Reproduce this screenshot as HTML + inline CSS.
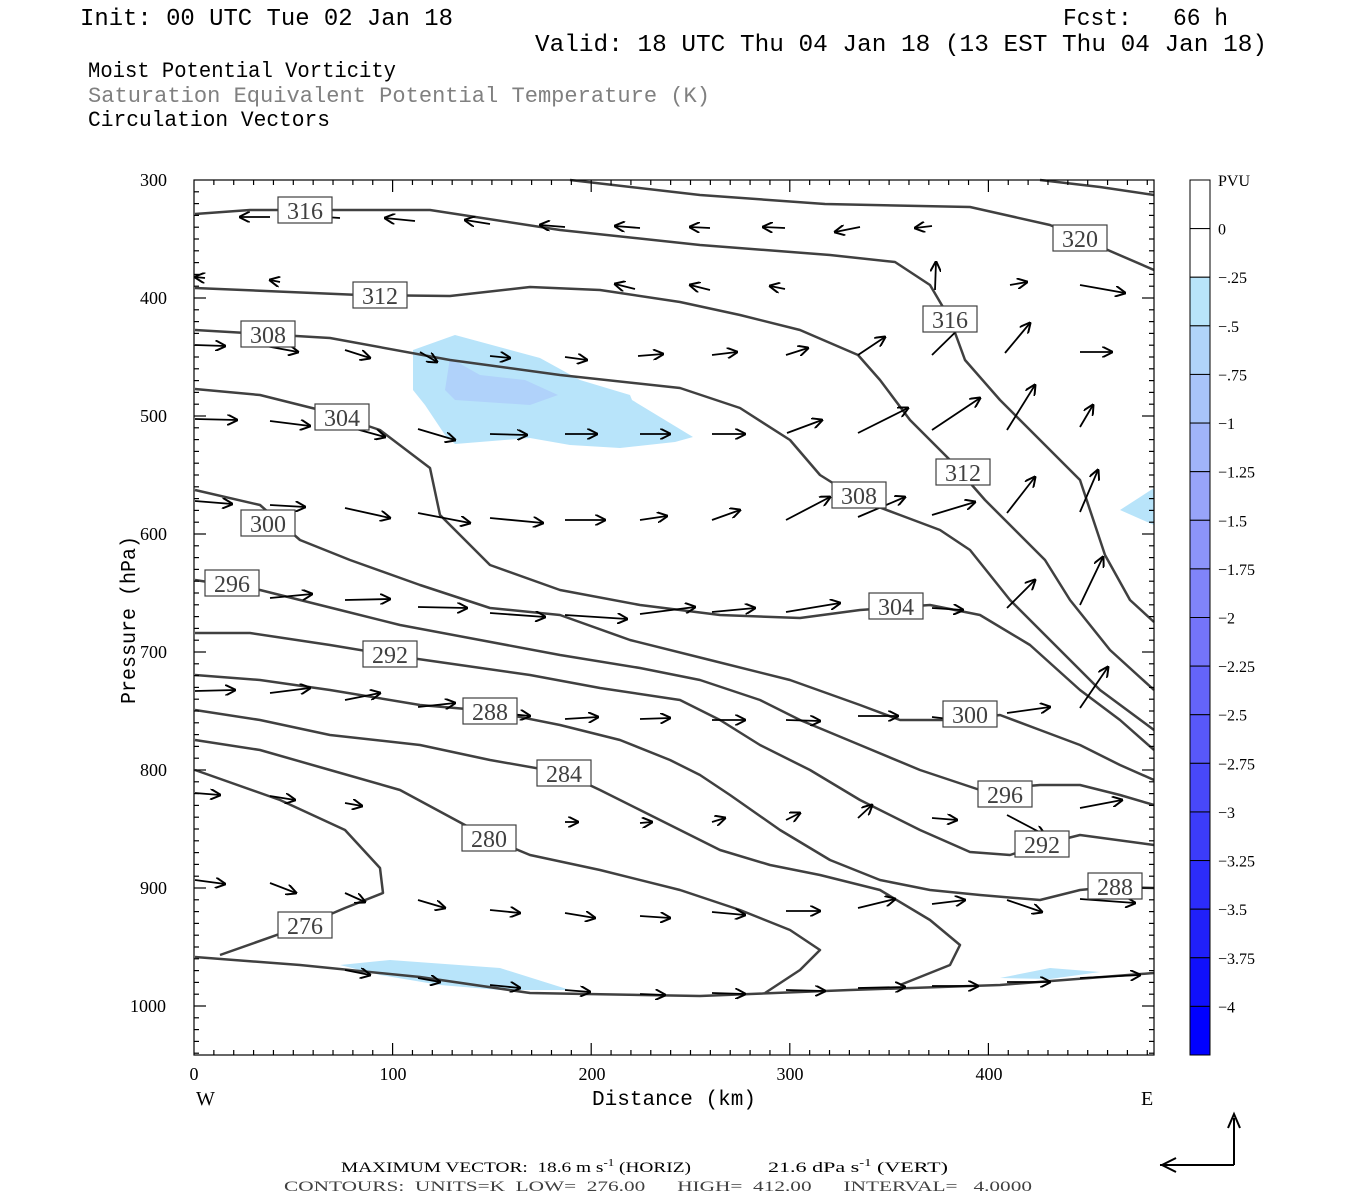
<!DOCTYPE html>
<html><head><meta charset="utf-8"><style>
html,body{margin:0;padding:0;background:#fff;width:1350px;height:1200px;overflow:hidden}
svg{display:block}
text{white-space:pre}
</style></head><body>
<svg id="s" width="1350" height="1200" xmlns="http://www.w3.org/2000/svg" xml:space="preserve" font-family="'Liberation Serif', serif">
<defs>
<marker id="ah" viewBox="0 0 10 10" refX="9" refY="5" markerWidth="11" markerHeight="11" markerUnits="userSpaceOnUse" orient="auto"><path d="M0,0 L10,5 L0,10" fill="none" stroke="#000" stroke-width="1.8"/></marker>
</defs>
<g font-family="'Liberation Mono', monospace" font-size="24">
<text x="80" y="25" textLength="373" lengthAdjust="spacingAndGlyphs">Init: 00 UTC Tue 02 Jan 18</text>
<text x="1063" y="25" textLength="165" lengthAdjust="spacingAndGlyphs">Fcst:   66 h</text>
<text x="535" y="51" textLength="732" lengthAdjust="spacingAndGlyphs">Valid: 18 UTC Thu 04 Jan 18 (13 EST Thu 04 Jan 18)</text>
<text x="88" y="77" font-size="22" textLength="308" lengthAdjust="spacingAndGlyphs">Moist Potential Vorticity</text>
<text x="88" y="102" font-size="22" fill="#808080" textLength="622" lengthAdjust="spacingAndGlyphs">Saturation Equivalent Potential Temperature (K)</text>
<text x="88" y="126" font-size="22" textLength="242" lengthAdjust="spacingAndGlyphs">Circulation Vectors</text>
</g>
<g id="shade" stroke="none">
<polygon fill="#b8e4fa" points="413,350 455,335 540,358 580,380 630,395 632,400 693,437 675,442 620,448 570,445 530,438 455,444 445,435 425,405 413,390"/>
<polygon fill="#b0d2fa" points="450,358 480,375 525,380 558,395 530,405 455,400 445,390"/>
<polygon fill="#b8e4fa" points="340,965 390,960 500,968 570,990 500,990 440,985 380,975"/>
<polygon fill="#b8e4fa" points="1120,510 1154,488 1154,525"/>
<polygon fill="#b8e4fa" points="1000,978 1050,968 1100,972 1050,979"/>
</g>
<g id="cont" fill="none" stroke="#404040" stroke-width="2.5" stroke-linejoin="round"></g>
<g id="vec" fill="none" stroke="#000" stroke-width="1.8" marker-end="url(#ah)"></g>
<g id="labs" font-size="24" fill="#404040" text-anchor="middle"></g>
<g id="axes" stroke="#000" stroke-width="1.2" fill="none"></g>
<g id="tl" font-size="18" fill="#000"></g>
<text x="0" y="0" transform="translate(135,620) rotate(-90)" text-anchor="middle" font-size="21" font-family="'Liberation Mono', monospace" textLength="168" lengthAdjust="spacingAndGlyphs">Pressure (hPa)</text>
<text x="674" y="1105" text-anchor="middle" font-size="21" font-family="'Liberation Mono', monospace" textLength="164" lengthAdjust="spacingAndGlyphs">Distance (km)</text>
<text x="196" y="1105" font-size="20">W</text>
<text x="1141" y="1105" font-size="20">E</text>
<g id="cb"></g>
<g font-size="15">
<text x="341" y="1172" textLength="350" lengthAdjust="spacingAndGlyphs">MAXIMUM VECTOR:  18.6 m s<tspan dy="-6" font-size="10">-1</tspan><tspan dy="6"> (HORIZ)</tspan></text>
<text x="768" y="1172" textLength="180" lengthAdjust="spacingAndGlyphs">21.6 dPa s<tspan dy="-6" font-size="10">-1</tspan><tspan dy="6"> (VERT)</tspan></text>
<text x="284" y="1191" fill="#404040" textLength="748" lengthAdjust="spacingAndGlyphs">CONTOURS:  UNITS=K  LOW=  276.00      HIGH=  412.00      INTERVAL=   4.0000</text>
</g>
<path d="M1234,1165 L1234,1118 M1160,1165 L1234,1165" stroke="#000" stroke-width="2" fill="none"/>
<path d="M1228,1128 L1234,1114 L1240,1128 M1176,1158 L1162,1165 L1176,1172" stroke="#000" stroke-width="2" fill="none"/>
</svg>
<script>
const NS="http://www.w3.org/2000/svg";
function el(p,t,a,txt){const e=document.createElementNS(NS,t);for(const k in a)e.setAttribute(k,a[k]);if(txt!==undefined)e.textContent=txt;document.getElementById(p).appendChild(e);return e;}
const L=194,R=1154,T=180,B=1055;
const C=[
"195,214 250,210 430,210 560,230 700,245 830,255 895,262 930,285 950,319 965,360 1000,400 1040,440 1080,480 1105,555 1130,600 1154,622",
"570,180 700,195 825,204 970,207 1050,225 1154,270",
"1040,180 1100,187 1154,195",
"195,288 360,295 450,296 530,287 600,290 680,302 740,315 800,330 858,355 880,380 910,420 950,460 985,500 1010,525 1045,560 1070,600 1110,650 1154,690",
"195,330 330,338 450,360 560,375 680,388 740,408 790,440 820,475 860,500 900,515 940,530 970,550 1010,600 1060,650 1100,690 1154,730",
"195,389 260,395 320,410 380,430 430,468 440,515 490,565 560,590 640,605 720,615 800,618 860,610 930,605 980,615 1030,645 1080,690 1120,720 1154,750",
"195,490 260,505 300,540 350,560 420,585 490,608 560,615 630,640 710,660 790,680 860,705 900,720 960,720 1000,715 1040,730 1080,745 1120,765 1154,780",
"195,580 260,590 340,610 400,625 480,640 560,655 640,668 700,680 760,700 800,720 860,745 920,770 980,790 1040,785 1080,785 1120,795 1154,805",
"195,633 250,633 330,645 390,655 460,665 530,675 600,688 680,700 720,720 760,745 810,770 860,800 920,830 970,852 1010,855 1040,845 1080,835 1154,845",
"195,675 260,680 330,690 420,705 490,711 560,725 620,740 670,760 700,775 730,795 780,830 830,860 880,880 930,890 980,895 1040,900 1080,890 1110,887 1154,888",
"195,710 260,720 330,735 420,745 490,760 564,773 600,790 640,810 680,830 720,850 770,865 820,875 880,890 930,920 960,945 950,965 900,985",
"195,740 260,750 330,770 400,790 489,838 530,855 600,870 680,890 740,910 790,930 820,950 800,970 765,993",
"195,770 280,800 345,830 380,868 383,893 345,908 305,925 220,955",
"195,957 300,965 420,977 530,993 700,996 850,990 1000,985 1154,973"];
C.forEach(p=>el("cont","polyline",{points:p}));
const V=[[270,217,240,217],[340,218,310,216],[415,221,385,218],[490,224,465,220],[565,227,540,225],[640,228,615,226],[710,228,690,227],[785,228,763,227],[860,227,835,232],[932,226,915,228],[1100,230,1090,232],
[205,278,195,277],[280,282,270,280],[635,289,615,284],[710,290,690,285],[785,289,770,286],[935,290,936,262],[1010,285,1027,282],[1080,285,1125,293],
[195,345,225,346],[260,345,298,352],[345,350,370,358],[420,352,437,362],[490,356,510,358],[565,357,587,360],[638,356,663,354],[712,355,737,352],[786,355,808,348],[858,355,885,337],[932,355,975,313],[1005,353,1030,323],[1080,352,1112,352],
[195,419,237,420],[270,421,310,426],[345,426,385,437],[418,429,455,440],[490,434,527,435],[565,434,597,434],[640,434,670,434],[712,434,745,434],[787,433,822,420],[858,433,908,408],[932,430,980,398],[1007,430,1035,385],[1080,427,1093,405],
[195,501,232,504],[270,505,305,507],[345,508,390,518],[418,513,470,523],[490,518,543,523],[565,520,605,520],[640,520,667,516],[712,520,740,510],[786,520,830,497],[858,517,905,497],[932,515,975,502],[1007,513,1035,477],[1080,512,1098,470],
[270,598,312,594],[345,600,390,599],[418,607,467,608],[490,613,545,617],[565,615,627,619],[640,614,695,607],[712,612,755,608],[786,612,840,603],[932,608,963,610],[1007,608,1035,580],[1080,605,1103,557],
[195,691,235,690],[270,693,310,688],[345,700,380,693],[418,707,455,703],[490,712,530,716],[565,719,598,717],[640,719,670,718],[712,720,745,720],[786,720,820,721],[858,716,898,716],[932,717,975,722],[1007,713,1050,707],[1080,708,1108,667],
[195,793,220,795],[270,796,295,800],[345,803,362,806],[565,822,578,822],[640,823,652,822],[712,822,725,818],[786,820,800,813],[858,818,872,805],[932,818,957,820],[1007,815,1045,835],[1080,808,1122,800],
[195,880,225,884],[270,883,296,893],[345,893,365,902],[418,900,445,908],[490,910,520,913],[565,913,595,918],[640,916,670,918],[712,912,745,915],[786,911,820,911],[858,908,895,899],[932,904,965,900],[1007,900,1042,912],[1080,899,1135,903],
[345,970,370,975],[418,978,440,982],[490,985,520,988],[565,990,590,992],[640,994,665,995],[712,993,745,994],[786,990,825,991],[858,988,905,987],[932,986,978,986],[1007,982,1050,982],[1080,978,1140,975]];
V.forEach(v=>el("vec","line",{x1:v[0],y1:v[1],x2:v[2],y2:v[3]}));
const LB=[[305,210,"316"],[1080,238,"320"],[380,295,"312"],[950,319,"316"],[268,334,"308"],[342,417,"304"],[963,472,"312"],[859,495,"308"],[268,523,"300"],[232,583,"296"],[896,606,"304"],[390,654,"292"],[970,714,"300"],[490,711,"288"],[564,773,"284"],[1005,794,"296"],[1042,844,"292"],[489,838,"280"],[1115,886,"288"],[305,925,"276"]];
LB.forEach(l=>{el("labs","rect",{x:l[0]-27,y:l[1]-13,width:54,height:26,fill:"#fff",stroke:"#404040","stroke-width":1.2});el("labs","text",{x:l[0],y:l[1]+9},l[2]);});
el("axes","rect",{x:L,y:T,width:R-L,height:B-T});
const ppx=198.6/100, ppy=1.18;
for(let k=10;k*ppx+L<R;k+=10){const x=L+k*ppx;const len=(k%100==0)?12:5;el("axes","line",{x1:x,y1:B,x2:x,y2:B-len});el("axes","line",{x1:x,y1:T,x2:x,y2:T+len});}
for(let p=310;(p-300)*ppy+T<B;p+=10){const y=T+(p-300)*ppy;const len=(p%100==0)?12:5;el("axes","line",{x1:L,y1:y,x2:L+len,y2:y});el("axes","line",{x1:R,y1:y,x2:R-len,y2:y});}
for(let p=300;p<=1000;p+=100){const y=T+(p-300)*ppy;el("tl","text",{x:p<1000?140:130,y:y+6},String(p));}
[[0,194],[100,393],[200,592],[300,790],[400,989]].forEach(a=>el("tl","text",{x:a[1],y:1080,"text-anchor":"middle"},String(a[0])));
const cols=["#ffffff","#ffffff","#b8e4fa","#b0d4fa","#a8c4fa","#a0b4fa","#98a4fa","#8c94fa","#8084fa","#7474fa","#6464fa","#5858fa","#4848fa","#3c3cfa","#2c2cfa","#2020fa","#1010fc","#0000ff"];
const h=(1055-180)/18;
cols.forEach((c,i)=>el("cb","rect",{x:1190,y:180+i*h,width:20,height:h,fill:c,stroke:"#000","stroke-width":1}));
const cl=["0","-.25","-.5","-.75","-1","-1.25","-1.5","-1.75","-2","-2.25","-2.5","-2.75","-3","-3.25","-3.5","-3.75","-4"];
el("cb","text",{x:1218,y:186,"font-size":16},"PVU");
cl.forEach((t,i)=>el("cb","text",{x:1218,y:180+(i+1)*h+6,"font-size":16},t.replace("-","\u2212")));
</script>
</body></html>
